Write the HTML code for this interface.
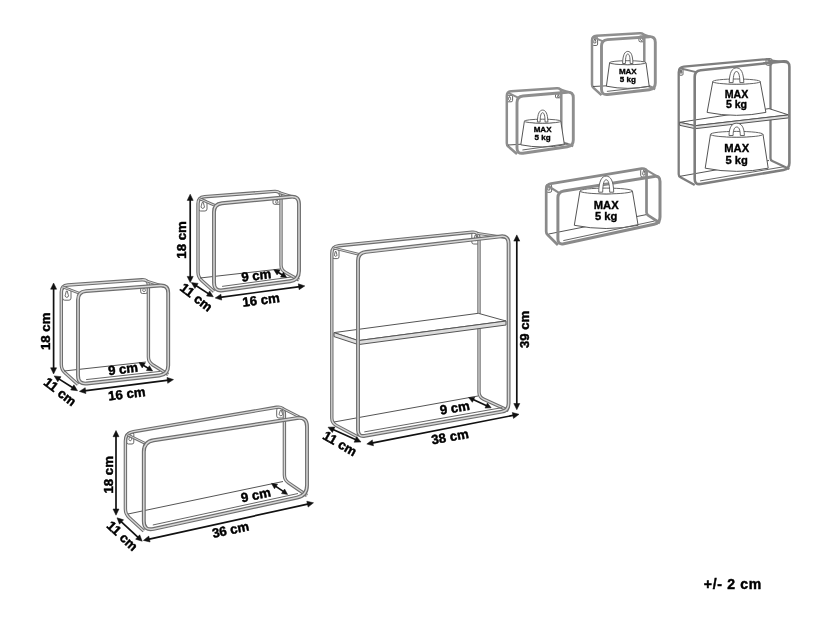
<!DOCTYPE html>
<html><head><meta charset="utf-8"><style>
html,body{margin:0;padding:0;background:#fff;}
svg{display:block;font-family:"Liberation Sans",sans-serif;will-change:transform;}
</style></head><body>
<svg width="835" height="619" viewBox="0 0 835 619">
<rect width="835" height="619" fill="#fff"/>
<rect x="62.6" y="288.5" width="8.4" height="11.7" rx="2.1" stroke="#555" stroke-width="0.9" fill="#fff"/>
<path d="M66.3,291.1 L65.4,294.7 A1.7,1.7 0 1 0 68.2,294.7 L67.3,291.1 Z" stroke="#444" stroke-width="0.8" fill="#fff"/>
<rect x="140.7" y="286" width="6.7" height="7.5" rx="1.7" stroke="#555" stroke-width="0.9" fill="#fff"/>
<path d="M143.6,287.6 L142.9,289.8 A1.3,1.3 0 1 0 145.2,289.8 L144.5,287.6 Z" stroke="#444" stroke-width="0.8" fill="#fff"/>
<path d="M78,384.5 L65,372.8 Q61.3,369.5 61.3,364.5 L61.3,292 Q61.3,285.5 67.8,285 L141.9,279.8 Q148.4,279.3 148.4,285.8 L148.4,357 Q148.4,362 152.6,364.7 L168.2,374.5" stroke="#6e6e6e" stroke-width="3.4" fill="none"/>
<path d="M78,384.5 L65,372.8 Q61.3,369.5 61.3,364.5 L61.3,292 Q61.3,285.5 67.8,285 L141.9,279.8 Q148.4,279.3 148.4,285.8 L148.4,357 Q148.4,362 152.6,364.7 L168.2,374.5" stroke="#d6d6d6" stroke-width="1.3" fill="none"/>
<line x1="64" y1="371" x2="146" y2="362" stroke="#555" stroke-width="1.0"/>
<path d="M62.9,287 L80,293.5" stroke="#6e6e6e" stroke-width="2.8" fill="none"/>
<path d="M62.9,287 L80,293.5" stroke="#d6d6d6" stroke-width="1.0" fill="none"/>
<path d="M146.8,281 L166.2,287.1" stroke="#6e6e6e" stroke-width="2.8" fill="none"/>
<path d="M146.8,281 L166.2,287.1" stroke="#d6d6d6" stroke-width="1.0" fill="none"/>
<path d="M86,291.1 L160.2,285.5 Q168.2,284.9 168.2,292.9 L168.2,365.5 Q168.2,374.5 159.3,375.5 L86.9,383.5 Q78,384.5 78,375.5 L78,299.7 Q78,291.7 86,291.1Z" stroke="#6e6e6e" stroke-width="3.9" fill="none"/>
<path d="M86,291.1 L160.2,285.5 Q168.2,284.9 168.2,292.9 L168.2,365.5 Q168.2,374.5 159.3,375.5 L86.9,383.5 Q78,384.5 78,375.5 L78,299.7 Q78,291.7 86,291.1Z" stroke="#d6d6d6" stroke-width="1.5" fill="none"/>
<line x1="86.1" y1="379.6" x2="160.1" y2="371.4" stroke="#666" stroke-width="1.0"/>
<line x1="53.6" y1="288" x2="53.6" y2="369" stroke="#111" stroke-width="1.7"/>
<path d="M53.6,374 L50.6,367.8 L56.6,367.8Z" stroke="#111" stroke-width="0.5" fill="#111" stroke-linejoin="round"/>
<path d="M53.6,283 L56.6,289.2 L50.6,289.2Z" stroke="#111" stroke-width="0.5" fill="#111" stroke-linejoin="round"/>
<text x="45.6" y="331.3" font-size="13.2" font-weight="bold" text-anchor="middle" dominant-baseline="central" letter-spacing="0" stroke="#000" stroke-width="0.45" transform="rotate(-90 45.6 331.3)">18 cm</text>
<line x1="58.4" y1="378.6" x2="73.3" y2="388" stroke="#111" stroke-width="1.7"/>
<path d="M77.5,390.7 L70.7,389.9 L73.9,384.8Z" stroke="#111" stroke-width="0.5" fill="#111" stroke-linejoin="round"/>
<path d="M54.2,375.9 L61,376.7 L57.8,381.8Z" stroke="#111" stroke-width="0.5" fill="#111" stroke-linejoin="round"/>
<text x="60" y="391.8" font-size="13.2" font-weight="bold" text-anchor="middle" dominant-baseline="central" letter-spacing="0" stroke="#000" stroke-width="0.45" transform="rotate(38 60 391.8)">11 cm</text>
<line x1="84.3" y1="390.8" x2="168.6" y2="380.2" stroke="#111" stroke-width="1.7"/>
<path d="M173.5,379.6 L167.7,383.3 L167,377.4Z" stroke="#111" stroke-width="0.5" fill="#111" stroke-linejoin="round"/>
<path d="M79.4,391.4 L85.2,387.7 L85.9,393.6Z" stroke="#111" stroke-width="0.5" fill="#111" stroke-linejoin="round"/>
<text x="126.8" y="393.8" font-size="13.2" font-weight="bold" text-anchor="middle" dominant-baseline="central" letter-spacing="0" stroke="#000" stroke-width="0.45" transform="rotate(-7 126.8 393.8)">16 cm</text>
<line x1="142.7" y1="364.9" x2="148.9" y2="368.7" stroke="#111" stroke-width="1.7"/>
<path d="M152.6,371 L146.4,370.5 L149.4,365.7Z" stroke="#111" stroke-width="0.5" fill="#111" stroke-linejoin="round"/>
<path d="M139,362.6 L145.2,363.1 L142.2,367.9Z" stroke="#111" stroke-width="0.5" fill="#111" stroke-linejoin="round"/>
<text x="123" y="369" font-size="13.2" font-weight="bold" text-anchor="middle" dominant-baseline="central" letter-spacing="0" stroke="#000" stroke-width="0.45" transform="rotate(-7 123 369)">9 cm</text>
<rect x="198.5" y="200" width="8.5" height="11" rx="2.1" stroke="#555" stroke-width="0.9" fill="#fff"/>
<path d="M202.2,202.4 L201.3,205.8 A1.7,1.7 0 1 0 204.2,205.8 L203.3,202.4 Z" stroke="#444" stroke-width="0.8" fill="#fff"/>
<rect x="273" y="198.5" width="7.7" height="5.8" rx="1.5" stroke="#555" stroke-width="0.9" fill="#fff"/>
<path d="M276.5,199.8 L275.9,201.4 A1.2,1.2 0 1 0 277.8,201.4 L277.2,199.8 Z" stroke="#444" stroke-width="0.8" fill="#fff"/>
<path d="M214,291.5 L201.7,280.4 Q198,277 198,272 L198,203.7 Q198,197.2 204.5,196.7 L274.5,191.4 Q281,190.9 281,197.4 L281,265 Q281,270 285.4,272.4 L299,280" stroke="#6e6e6e" stroke-width="3.4" fill="none"/>
<path d="M214,291.5 L201.7,280.4 Q198,277 198,272 L198,203.7 Q198,197.2 204.5,196.7 L274.5,191.4 Q281,190.9 281,197.4 L281,265 Q281,270 285.4,272.4 L299,280" stroke="#d6d6d6" stroke-width="1.3" fill="none"/>
<line x1="200" y1="278" x2="280" y2="269" stroke="#555" stroke-width="1.0"/>
<path d="M199.6,198.7 L216,205.9" stroke="#6e6e6e" stroke-width="2.8" fill="none"/>
<path d="M199.6,198.7 L216,205.9" stroke="#d6d6d6" stroke-width="1.0" fill="none"/>
<path d="M279.4,192.6 L297,198.1" stroke="#6e6e6e" stroke-width="2.8" fill="none"/>
<path d="M279.4,192.6 L297,198.1" stroke="#d6d6d6" stroke-width="1.0" fill="none"/>
<path d="M222,203.3 L291,196.7 Q299,195.9 299,203.9 L299,271 Q299,280 290.1,281.2 L222.9,290.3 Q214,291.5 214,282.5 L214,212.1 Q214,204.1 222,203.3Z" stroke="#6e6e6e" stroke-width="3.9" fill="none"/>
<path d="M222,203.3 L291,196.7 Q299,195.9 299,203.9 L299,271 Q299,280 290.1,281.2 L222.9,290.3 Q214,291.5 214,282.5 L214,212.1 Q214,204.1 222,203.3Z" stroke="#d6d6d6" stroke-width="1.5" fill="none"/>
<line x1="222.1" y1="286.4" x2="290.9" y2="277.1" stroke="#666" stroke-width="1.0"/>
<line x1="190.2" y1="199.2" x2="190.2" y2="277.6" stroke="#111" stroke-width="1.7"/>
<path d="M190.2,282.6 L187.2,276.4 L193.2,276.4Z" stroke="#111" stroke-width="0.5" fill="#111" stroke-linejoin="round"/>
<path d="M190.2,194.2 L193.2,200.4 L187.2,200.4Z" stroke="#111" stroke-width="0.5" fill="#111" stroke-linejoin="round"/>
<text x="181.8" y="240" font-size="13.2" font-weight="bold" text-anchor="middle" dominant-baseline="central" letter-spacing="0" stroke="#000" stroke-width="0.45" transform="rotate(-90 181.8 240)">18 cm</text>
<line x1="195.5" y1="285.3" x2="209.1" y2="294.1" stroke="#111" stroke-width="1.7"/>
<path d="M213.3,296.8 L206.5,296 L209.7,290.9Z" stroke="#111" stroke-width="0.5" fill="#111" stroke-linejoin="round"/>
<path d="M191.3,282.6 L198.1,283.4 L194.9,288.5Z" stroke="#111" stroke-width="0.5" fill="#111" stroke-linejoin="round"/>
<text x="196.3" y="297.3" font-size="13.2" font-weight="bold" text-anchor="middle" dominant-baseline="central" letter-spacing="0" stroke="#000" stroke-width="0.45" transform="rotate(38 196.3 297.3)">11 cm</text>
<line x1="220.1" y1="297.3" x2="299.9" y2="286.6" stroke="#111" stroke-width="1.7"/>
<path d="M304.8,285.9 L299.1,289.7 L298.3,283.8Z" stroke="#111" stroke-width="0.5" fill="#111" stroke-linejoin="round"/>
<path d="M215.2,298 L220.9,294.2 L221.7,300.1Z" stroke="#111" stroke-width="0.5" fill="#111" stroke-linejoin="round"/>
<text x="261" y="300" font-size="13.2" font-weight="bold" text-anchor="middle" dominant-baseline="central" letter-spacing="0" stroke="#000" stroke-width="0.45" transform="rotate(-7 261 300)">16 cm</text>
<line x1="277.6" y1="272" x2="282.9" y2="275.2" stroke="#111" stroke-width="1.7"/>
<path d="M286.7,277.5 L280.5,277.1 L283.4,272.3Z" stroke="#111" stroke-width="0.5" fill="#111" stroke-linejoin="round"/>
<path d="M273.8,269.7 L280,270.1 L277.1,274.9Z" stroke="#111" stroke-width="0.5" fill="#111" stroke-linejoin="round"/>
<text x="256.3" y="275.5" font-size="13.2" font-weight="bold" text-anchor="middle" dominant-baseline="central" letter-spacing="0" stroke="#000" stroke-width="0.45" transform="rotate(-7 256.3 275.5)">9 cm</text>
<rect x="126.7" y="432.5" width="7.1" height="11.5" rx="1.8" stroke="#555" stroke-width="0.9" fill="#fff"/>
<path d="M129.8,435 L129,438.7 A1.4,1.4 0 1 0 131.5,438.7 L130.7,435 Z" stroke="#444" stroke-width="0.8" fill="#fff"/>
<rect x="276.7" y="408" width="8.3" height="10" rx="2.1" stroke="#555" stroke-width="0.9" fill="#fff"/>
<path d="M280.4,410.2 L279.4,413.2 A1.7,1.7 0 1 0 282.3,413.2 L281.3,410.2 Z" stroke="#444" stroke-width="0.8" fill="#fff"/>
<path d="M143.8,531 L129.1,517.4 Q125.4,514 125.4,509 L125.4,441 Q125.4,433 133.3,431.7 L276.5,407.3 Q284.4,406 284.4,414 L284.4,475 Q284.4,480 288.5,482.8 L307,495.5" stroke="#6e6e6e" stroke-width="3.4" fill="none"/>
<path d="M143.8,531 L129.1,517.4 Q125.4,514 125.4,509 L125.4,441 Q125.4,433 133.3,431.7 L276.5,407.3 Q284.4,406 284.4,414 L284.4,475 Q284.4,480 288.5,482.8 L307,495.5" stroke="#d6d6d6" stroke-width="1.3" fill="none"/>
<line x1="128" y1="514" x2="283" y2="481.5" stroke="#555" stroke-width="1.0"/>
<path d="M127.4,434.7 L146.3,443.9" stroke="#6e6e6e" stroke-width="2.8" fill="none"/>
<path d="M127.4,434.7 L146.3,443.9" stroke="#d6d6d6" stroke-width="1.0" fill="none"/>
<path d="M282.4,408.3 L304.5,419.5" stroke="#6e6e6e" stroke-width="2.8" fill="none"/>
<path d="M282.4,408.3 L304.5,419.5" stroke="#d6d6d6" stroke-width="1.0" fill="none"/>
<path d="M153.7,440.3 L297.1,418.1 Q307,416.6 307,426.6 L307,485.5 Q307,495.5 297.2,497.6 L153.6,528.9 Q143.8,531 143.8,521 L143.8,451.8 Q143.8,441.8 153.7,440.3Z" stroke="#6e6e6e" stroke-width="3.9" fill="none"/>
<path d="M153.7,440.3 L297.1,418.1 Q307,416.6 307,426.6 L307,485.5 Q307,495.5 297.2,497.6 L153.6,528.9 Q143.8,531 143.8,521 L143.8,451.8 Q143.8,441.8 153.7,440.3Z" stroke="#d6d6d6" stroke-width="1.5" fill="none"/>
<line x1="152.8" y1="525" x2="298" y2="493.5" stroke="#666" stroke-width="1.0"/>
<line x1="116" y1="435.5" x2="116" y2="510.2" stroke="#111" stroke-width="1.7"/>
<path d="M116,515.2 L113,509 L119,509Z" stroke="#111" stroke-width="0.5" fill="#111" stroke-linejoin="round"/>
<path d="M116,430.5 L119,436.7 L113,436.7Z" stroke="#111" stroke-width="0.5" fill="#111" stroke-linejoin="round"/>
<text x="108.2" y="474.8" font-size="13.2" font-weight="bold" text-anchor="middle" dominant-baseline="central" letter-spacing="0" stroke="#000" stroke-width="0.45" transform="rotate(-90 108.2 474.8)">18 cm</text>
<line x1="120.6" y1="521.2" x2="138.6" y2="537.8" stroke="#111" stroke-width="1.7"/>
<path d="M142.2,541.2 L135.6,539.2 L139.7,534.8Z" stroke="#111" stroke-width="0.5" fill="#111" stroke-linejoin="round"/>
<path d="M117,517.8 L123.6,519.8 L119.5,524.2Z" stroke="#111" stroke-width="0.5" fill="#111" stroke-linejoin="round"/>
<text x="122.3" y="536" font-size="13.2" font-weight="bold" text-anchor="middle" dominant-baseline="central" letter-spacing="0" stroke="#000" stroke-width="0.45" transform="rotate(43 122.3 536)">11 cm</text>
<line x1="148.2" y1="539.3" x2="308.7" y2="503.9" stroke="#111" stroke-width="1.7"/>
<path d="M313.5,502.8 L308.1,507.1 L306.8,501.2Z" stroke="#111" stroke-width="0.5" fill="#111" stroke-linejoin="round"/>
<path d="M143.4,540.4 L148.8,536.1 L150.1,542Z" stroke="#111" stroke-width="0.5" fill="#111" stroke-linejoin="round"/>
<text x="230.5" y="529.7" font-size="13.2" font-weight="bold" text-anchor="middle" dominant-baseline="central" letter-spacing="0" stroke="#000" stroke-width="0.45" transform="rotate(-12 230.5 529.7)">36 cm</text>
<line x1="275.1" y1="485.9" x2="284" y2="491.9" stroke="#111" stroke-width="1.7"/>
<path d="M287.6,494.4 L281.5,493.6 L284.6,489Z" stroke="#111" stroke-width="0.5" fill="#111" stroke-linejoin="round"/>
<path d="M271.5,483.4 L277.6,484.2 L274.5,488.8Z" stroke="#111" stroke-width="0.5" fill="#111" stroke-linejoin="round"/>
<text x="255.8" y="495" font-size="13.2" font-weight="bold" text-anchor="middle" dominant-baseline="central" letter-spacing="0" stroke="#000" stroke-width="0.45" transform="rotate(-12 255.8 495)">9 cm</text>
<rect x="332.4" y="249.5" width="6.6" height="9.1" rx="1.7" stroke="#555" stroke-width="0.9" fill="#fff"/>
<path d="M335.3,251.5 L334.6,254.3 A1.3,1.3 0 1 0 336.8,254.3 L336.1,251.5 Z" stroke="#444" stroke-width="0.8" fill="#fff"/>
<rect x="471.8" y="232.3" width="7.7" height="11.7" rx="1.9" stroke="#555" stroke-width="0.9" fill="#fff"/>
<path d="M475.2,234.9 L474.3,238.5 A1.5,1.5 0 1 0 477,238.5 L476.1,234.9 Z" stroke="#444" stroke-width="0.8" fill="#fff"/>
<path d="M358,437 L336.2,425.4 Q331.8,423 331.8,418 L331.8,253.4 Q331.8,246.4 338.8,245.7 L472,232.2 Q479,231.5 479,238.5 L479,392 Q479,397 483.5,399.1 L508.6,410.5" stroke="#6e6e6e" stroke-width="3.4" fill="none"/>
<path d="M358,437 L336.2,425.4 Q331.8,423 331.8,418 L331.8,253.4 Q331.8,246.4 338.8,245.7 L472,232.2 Q479,231.5 479,238.5 L479,392 Q479,397 483.5,399.1 L508.6,410.5" stroke="#d6d6d6" stroke-width="1.3" fill="none"/>
<line x1="334" y1="422" x2="478" y2="396" stroke="#555" stroke-width="1.0"/>
<path d="M333.5,248 L360,254.6" stroke="#6e6e6e" stroke-width="2.8" fill="none"/>
<path d="M333.5,248 L360,254.6" stroke="#d6d6d6" stroke-width="1.0" fill="none"/>
<path d="M477.3,233.4 L506.6,237.7" stroke="#6e6e6e" stroke-width="2.8" fill="none"/>
<path d="M477.3,233.4 L506.6,237.7" stroke="#d6d6d6" stroke-width="1.0" fill="none"/>
<path d="M334,332.6 L478.3,313.3 L506,321 L358.3,340.6Z" stroke="#555" stroke-width="1.0" fill="#fff" stroke-linejoin="round"/>
<path d="M334,332.6 L358.3,340.6 L358.3,344.6 L334,336.6Z" stroke="#555" stroke-width="1.0" fill="#e0e0e0" stroke-linejoin="round"/>
<path d="M358.3,340.6 L506,321 L506,325 L358.3,344.6Z" stroke="#555" stroke-width="1.0" fill="#dcdcdc" stroke-linejoin="round"/>
<path d="M365.9,251.9 L500.7,236.4 Q508.6,235.5 508.6,243.5 L508.6,403.5 Q508.6,410.5 501.7,411.7 L364.9,435.8 Q358,437 358,430 L358,260.8 Q358,252.8 365.9,251.9Z" stroke="#6e6e6e" stroke-width="3.9" fill="none"/>
<path d="M365.9,251.9 L500.7,236.4 Q508.6,235.5 508.6,243.5 L508.6,403.5 Q508.6,410.5 501.7,411.7 L364.9,435.8 Q358,437 358,430 L358,260.8 Q358,252.8 365.9,251.9Z" stroke="#d6d6d6" stroke-width="1.5" fill="none"/>
<line x1="364.3" y1="431.9" x2="502.3" y2="407.6" stroke="#666" stroke-width="1.0"/>
<line x1="516.8" y1="239.9" x2="516.8" y2="404.7" stroke="#111" stroke-width="1.7"/>
<path d="M516.8,409.7 L513.8,403.5 L519.8,403.5Z" stroke="#111" stroke-width="0.5" fill="#111" stroke-linejoin="round"/>
<path d="M516.8,234.9 L519.8,241.1 L513.8,241.1Z" stroke="#111" stroke-width="0.5" fill="#111" stroke-linejoin="round"/>
<text x="525" y="329.4" font-size="13.2" font-weight="bold" text-anchor="middle" dominant-baseline="central" letter-spacing="0" stroke="#000" stroke-width="0.45" transform="rotate(-90 525 329.4)">39 cm</text>
<line x1="332.5" y1="429.2" x2="356.5" y2="440" stroke="#111" stroke-width="1.7"/>
<path d="M361,442 L354.1,442.2 L356.6,436.7Z" stroke="#111" stroke-width="0.5" fill="#111" stroke-linejoin="round"/>
<path d="M328,427.2 L334.9,427 L332.4,432.5Z" stroke="#111" stroke-width="0.5" fill="#111" stroke-linejoin="round"/>
<text x="339.8" y="443.6" font-size="13.2" font-weight="bold" text-anchor="middle" dominant-baseline="central" letter-spacing="0" stroke="#000" stroke-width="0.45" transform="rotate(30 339.8 443.6)">11 cm</text>
<line x1="371.7" y1="443.1" x2="514.1" y2="415.2" stroke="#111" stroke-width="1.7"/>
<path d="M519,414.3 L513.5,418.4 L512.3,412.5Z" stroke="#111" stroke-width="0.5" fill="#111" stroke-linejoin="round"/>
<path d="M366.8,444 L372.3,439.9 L373.5,445.8Z" stroke="#111" stroke-width="0.5" fill="#111" stroke-linejoin="round"/>
<text x="450" y="436.8" font-size="13.2" font-weight="bold" text-anchor="middle" dominant-baseline="central" letter-spacing="0" stroke="#000" stroke-width="0.45" transform="rotate(-10 450 436.8)">38 cm</text>
<line x1="472.6" y1="399.3" x2="487.2" y2="406" stroke="#111" stroke-width="1.7"/>
<path d="M491.2,407.8 L485,408.1 L487.4,403Z" stroke="#111" stroke-width="0.5" fill="#111" stroke-linejoin="round"/>
<path d="M468.6,397.5 L474.8,397.2 L472.4,402.3Z" stroke="#111" stroke-width="0.5" fill="#111" stroke-linejoin="round"/>
<text x="454.8" y="407.8" font-size="13.2" font-weight="bold" text-anchor="middle" dominant-baseline="central" letter-spacing="0" stroke="#000" stroke-width="0.45" transform="rotate(-10 454.8 407.8)">9 cm</text>
<rect x="506.5" y="95.3" width="6.1" height="6.5" rx="1.5" stroke="#555" stroke-width="0.9" fill="#fff"/>
<path d="M509.2,96.7 L508.5,98.6 A1.2,1.2 0 1 0 510.6,98.6 L509.9,96.7 Z" stroke="#444" stroke-width="0.8" fill="#fff"/>
<rect x="555.5" y="94" width="5.8" height="3.8" rx="0.9" stroke="#555" stroke-width="0.9" fill="#fff"/>
<path d="M558.2,94.8 L557.8,95.9 A0.8,0.8 0 1 0 559,95.9 L558.6,94.8 Z" stroke="#444" stroke-width="0.8" fill="#fff"/>
<path d="M517,154 L508.3,146.5 Q506.8,145.2 506.8,143.2 L506.8,96 Q506.8,91.5 511.3,91.2 L556.8,88.3 Q561.3,88 561.3,92.5 L561.3,140 Q561.3,142 563.2,142.6 L573.3,146" stroke="#8e8e8e" stroke-width="2.5" fill="none" stroke-linejoin="round"/>
<line x1="508" y1="145" x2="560" y2="142" stroke="#555" stroke-width="1.0"/>
<path d="M507.9,92.6 L518.5,97.9" stroke="#8e8e8e" stroke-width="2.0" fill="none" stroke-linejoin="round"/>
<path d="M560.2,89.2 L571.8,93.3" stroke="#8e8e8e" stroke-width="2.0" fill="none" stroke-linejoin="round"/>
<path d="M524.4,121.2 L520.8,144.8 Q542.6,149.2 564.4,144.8 L560.8,121.2 Q542.6,125.2 524.4,121.2 Z" stroke="#555" stroke-width="1" fill="#fff" stroke-linejoin="round"/>
<ellipse cx="542.6" cy="121.2" rx="18.2" ry="2" stroke="#666" stroke-width="1" fill="#fff"/>
<text x="542.6" y="132.3" font-size="8" font-weight="bold" text-anchor="middle" stroke="#000" stroke-width="0.35">MAX</text>
<text x="542.6" y="139.7" font-size="8" font-weight="bold" text-anchor="middle" stroke="#000" stroke-width="0.35">5 kg</text>
<path d="M523,96 L567.3,92.2 Q573.3,91.7 573.3,97.7 L573.3,140 Q573.3,146 567.4,146.8 L522.9,153.2 Q517,154 517,148 L517,102.5 Q517,96.5 523,96Z" stroke="#8e8e8e" stroke-width="2.9" fill="none" stroke-linejoin="round"/>
<path d="M537.4,122 C537.5,113.7 539.5,110.1 542.6,110.1 C545.8,110.1 547.7,113.7 547.9,122 L545.1,122 C545,115.5 544.1,112.7 542.6,112.7 C541.1,112.7 540.2,115.5 540.1,122 Z" stroke="#555" stroke-width="0.9" fill="#fff" stroke-linejoin="round"/>
<line x1="522.4" y1="150" x2="567.9" y2="143.6" stroke="#666" stroke-width="1.0"/>
<rect x="592" y="37" width="5.6" height="8.5" rx="1.4" stroke="#555" stroke-width="0.9" fill="#fff"/>
<path d="M594.5,38.9 L593.8,41.5 A1.1,1.1 0 1 0 595.8,41.5 L595.1,38.9 Z" stroke="#444" stroke-width="0.8" fill="#fff"/>
<rect x="638.9" y="36" width="5.5" height="5.8" rx="1.4" stroke="#555" stroke-width="0.9" fill="#fff"/>
<path d="M641.3,37.3 L640.7,38.9 A1.1,1.1 0 1 0 642.6,38.9 L642,37.3 Z" stroke="#444" stroke-width="0.8" fill="#fff"/>
<path d="M601.5,95.2 L593.5,87.9 Q592,86.5 592,84.5 L592,40.5 Q592,36 596.5,35.7 L639.8,33.3 Q644.3,33 644.3,37.5 L644.3,82 Q644.3,84 646.1,84.8 L655.3,89" stroke="#8e8e8e" stroke-width="2.5" fill="none" stroke-linejoin="round"/>
<line x1="593" y1="86.5" x2="643" y2="84" stroke="#555" stroke-width="1.0"/>
<path d="M593.1,37.1 L603,41.4" stroke="#8e8e8e" stroke-width="2.0" fill="none" stroke-linejoin="round"/>
<path d="M643.2,34.2 L653.8,37.9" stroke="#8e8e8e" stroke-width="2.0" fill="none" stroke-linejoin="round"/>
<path d="M609.6,62.7 L606.4,86.2 Q627.8,90.5 649.2,86.2 L646,62.7 Q627.8,66.7 609.6,62.7 Z" stroke="#555" stroke-width="1" fill="#fff" stroke-linejoin="round"/>
<ellipse cx="627.8" cy="62.7" rx="18.2" ry="2" stroke="#666" stroke-width="1" fill="#fff"/>
<text x="627.8" y="73.9" font-size="8" font-weight="bold" text-anchor="middle" stroke="#000" stroke-width="0.35">MAX</text>
<text x="627.8" y="81.9" font-size="8" font-weight="bold" text-anchor="middle" stroke="#000" stroke-width="0.35">5 kg</text>
<path d="M607.5,39.6 L649.3,36.7 Q655.3,36.3 655.3,42.3 L655.3,83 Q655.3,89 649.3,89.7 L607.5,94.5 Q601.5,95.2 601.5,89.2 L601.5,46 Q601.5,40 607.5,39.6Z" stroke="#8e8e8e" stroke-width="2.9" fill="none" stroke-linejoin="round"/>
<path d="M622.6,63.5 C622.8,55 624.7,51.4 627.8,51.4 C630.9,51.4 632.8,55 632.9,63.5 L630.2,63.5 C630.1,56.8 629.3,54 627.8,54 C626.3,54 625.5,56.8 625.4,63.5 Z" stroke="#555" stroke-width="0.9" fill="#fff" stroke-linejoin="round"/>
<line x1="606.9" y1="91.4" x2="649.9" y2="86.4" stroke="#666" stroke-width="1.0"/>
<rect x="679" y="68.4" width="4" height="6.8" rx="1" stroke="#555" stroke-width="0.9" fill="#fff"/>
<path d="M680.8,69.9 L680.3,72.1 A0.8,0.8 0 1 0 681.7,72.1 L681.2,69.9 Z" stroke="#444" stroke-width="0.8" fill="#fff"/>
<rect x="766" y="58.6" width="6" height="6.7" rx="1.5" stroke="#555" stroke-width="0.9" fill="#fff"/>
<path d="M768.6,60.1 L768,62 A1.2,1.2 0 1 0 770,62 L769.4,60.1 Z" stroke="#444" stroke-width="0.8" fill="#fff"/>
<path d="M694.7,185 L680.5,177.3 Q678.7,176.3 678.7,174.3 L678.7,72.2 Q678.7,67.2 683.7,66.7 L765.5,59.3 Q770.5,58.8 770.5,63.8 L770.5,158.2 Q770.5,160.2 772.3,161 L789.4,169" stroke="#7e7e7e" stroke-width="2.3" fill="none" stroke-linejoin="round"/>
<line x1="680" y1="176.3" x2="769" y2="160.5" stroke="#555" stroke-width="1.0"/>
<path d="M679.9,68.3 L696.2,72.1" stroke="#7e7e7e" stroke-width="1.9" fill="none" stroke-linejoin="round"/>
<path d="M769.3,60.2 L787.9,62.5" stroke="#7e7e7e" stroke-width="1.9" fill="none" stroke-linejoin="round"/>
<path d="M679.7,122.3 L769,108.6 L788.5,114.9 L695.2,125.7Z" stroke="#555" stroke-width="1.0" fill="#fff" stroke-linejoin="round"/>
<path d="M679.7,122.3 L695.2,125.7 L695.2,128.7 L679.7,125.3Z" stroke="#555" stroke-width="1.0" fill="#e0e0e0" stroke-linejoin="round"/>
<path d="M695.2,125.7 L788.5,114.9 L788.5,117.9 L695.2,128.7Z" stroke="#555" stroke-width="1.0" fill="#dcdcdc" stroke-linejoin="round"/>
<path d="M710.5,134.3 L705.2,168.2 Q736.7,174.5 768.2,168.2 L763,134.3 Q736.7,140.1 710.5,134.3 Z" stroke="#555" stroke-width="1" fill="#fff" stroke-linejoin="round"/>
<ellipse cx="736.7" cy="134.3" rx="26.2" ry="2.9" stroke="#666" stroke-width="1" fill="#fff"/>
<text x="736.7" y="152" font-size="11.2" font-weight="bold" text-anchor="middle" stroke="#000" stroke-width="0.35">MAX</text>
<text x="736.7" y="163.5" font-size="11.2" font-weight="bold" text-anchor="middle" stroke="#000" stroke-width="0.35">5 kg</text>
<path d="M712.8,81.6 L707.1,112.4 Q736.5,118.3 765.9,112.4 L760.2,81.6 Q736.5,86.8 712.8,81.6 Z" stroke="#555" stroke-width="1" fill="#fff" stroke-linejoin="round"/>
<ellipse cx="736.5" cy="81.6" rx="23.8" ry="2.6" stroke="#666" stroke-width="1" fill="#fff"/>
<text x="736.5" y="97.5" font-size="10.6" font-weight="bold" text-anchor="middle" stroke="#000" stroke-width="0.35">MAX</text>
<text x="736.5" y="107.8" font-size="10.6" font-weight="bold" text-anchor="middle" stroke="#000" stroke-width="0.35">5 kg</text>
<path d="M700.7,70.2 L783.4,61.4 Q789.4,60.8 789.4,66.8 L789.4,163 Q789.4,169 783.5,170 L700.6,184 Q694.7,185 694.7,179 L694.7,76.8 Q694.7,70.8 700.7,70.2Z" stroke="#7e7e7e" stroke-width="2.6" fill="none" stroke-linejoin="round"/>
<path d="M729,135.5 C729.2,126.9 732.1,123.2 736.7,123.2 C741.3,123.2 744.2,126.9 744.4,135.5 L740.3,135.5 C740.2,129.6 738.9,127 736.7,127 C734.5,127 733.2,129.6 733.1,135.5 Z" stroke="#555" stroke-width="0.9" fill="#fff" stroke-linejoin="round"/>
<path d="M729.2,82.6 C729.5,72.3 732.1,67.9 736.5,67.9 C740.9,67.9 743.5,72.3 743.8,82.6 L739.9,82.6 C739.8,74.9 738.5,71.5 736.5,71.5 C734.5,71.5 733.2,74.9 733.1,82.6 Z" stroke="#555" stroke-width="0.9" fill="#fff" stroke-linejoin="round"/>
<line x1="700.1" y1="180.9" x2="784" y2="166.7" stroke="#666" stroke-width="1.0"/>
<rect x="546" y="184.5" width="5.6" height="7.8" rx="1.4" stroke="#555" stroke-width="0.9" fill="#fff"/>
<path d="M548.5,186.2 L547.8,188.6 A1.1,1.1 0 1 0 549.8,188.6 L549.1,186.2 Z" stroke="#444" stroke-width="0.8" fill="#fff"/>
<rect x="640.7" y="168.7" width="6.3" height="8.3" rx="1.6" stroke="#555" stroke-width="0.9" fill="#fff"/>
<path d="M643.5,170.5 L642.8,173.1 A1.3,1.3 0 1 0 644.9,173.1 L644.2,170.5 Z" stroke="#444" stroke-width="0.8" fill="#fff"/>
<path d="M557.9,245 L547.6,234.8 Q546.2,233.4 546.2,231.4 L546.2,189.5 Q546.2,184.5 551.1,183.7 L641.6,168.6 Q646.5,167.8 646.5,172.8 L646.5,212.2 Q646.5,214.2 648.2,215.3 L660,223" stroke="#8a8a8a" stroke-width="2.7" fill="none" stroke-linejoin="round"/>
<line x1="548.7" y1="234" x2="646" y2="214.7" stroke="#555" stroke-width="1.0"/>
<path d="M547.4,185.5 L559.4,193.1" stroke="#8a8a8a" stroke-width="2.1" fill="none" stroke-linejoin="round"/>
<path d="M645.3,169.3 L658.5,177.2" stroke="#8a8a8a" stroke-width="2.1" fill="none" stroke-linejoin="round"/>
<path d="M580,191 L574.3,225.3 Q606.2,231.7 638.1,225.3 L632.4,191 Q606.2,196.8 580,191 Z" stroke="#555" stroke-width="1" fill="#fff" stroke-linejoin="round"/>
<ellipse cx="606.2" cy="191" rx="26.2" ry="2.9" stroke="#666" stroke-width="1" fill="#fff"/>
<text x="606.2" y="208.9" font-size="11.2" font-weight="bold" text-anchor="middle" stroke="#000" stroke-width="0.35">MAX</text>
<text x="606.2" y="220.2" font-size="11.2" font-weight="bold" text-anchor="middle" stroke="#000" stroke-width="0.35">5 kg</text>
<path d="M563.8,190.9 L654.1,176.4 Q660,175.5 660,181.5 L660,217 Q660,223 654.1,224.3 L563.8,243.7 Q557.9,245 557.9,239 L557.9,197.8 Q557.9,191.8 563.8,190.9Z" stroke="#8a8a8a" stroke-width="3.0" fill="none" stroke-linejoin="round"/>
<path d="M598.7,192.2 C598.9,180.9 601.7,176.1 606.2,176.1 C610.7,176.1 613.5,180.9 613.7,192.2 L609.7,192.2 C609.6,183.5 608.3,179.8 606.2,179.8 C604.1,179.8 602.8,183.5 602.7,192.2 Z" stroke="#555" stroke-width="0.9" fill="#fff" stroke-linejoin="round"/>
<line x1="563.3" y1="240.6" x2="654.6" y2="221" stroke="#666" stroke-width="1.0"/>
<text x="732.9" y="584.4" font-size="14" font-weight="bold" text-anchor="middle" dominant-baseline="central" letter-spacing="0.7" stroke="#000" stroke-width="0.45" transform="rotate(0 732.9 584.4)">+/- 2 cm</text>
</svg>
</body></html>
